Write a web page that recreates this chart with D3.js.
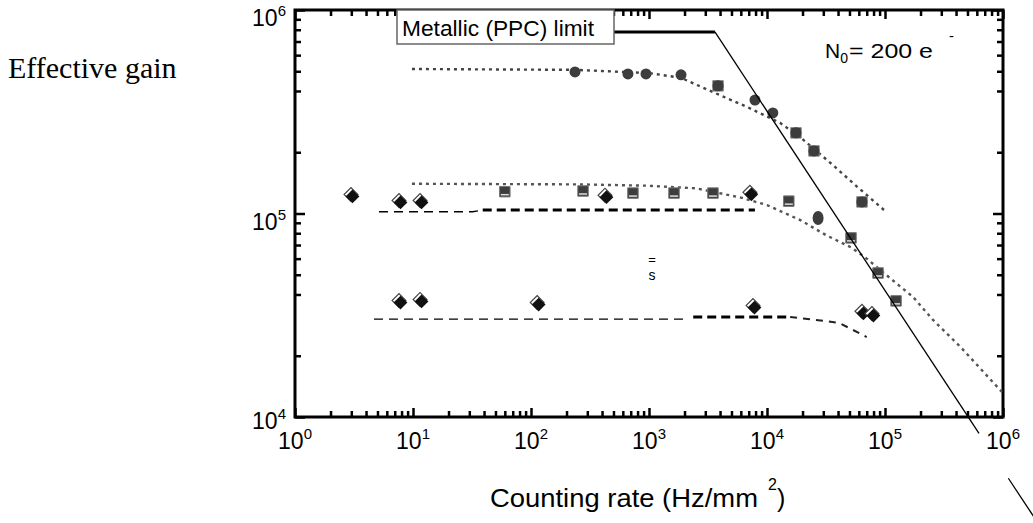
<!DOCTYPE html>
<html>
<head>
<meta charset="utf-8">
<script src="https://cdn.jsdelivr.net/npm/d3@7"></script>
<style>
body { margin: 0; background: #fff; }
text { font-family: "Liberation Sans", Arial, sans-serif; fill: #000; }
.axis .domain { display: none; }
.axis line { stroke: #000; stroke-width: 2.5; }
</style>
</head>
<body>
<svg class="chart" width="1033" height="523"></svg>
<script>
// exponents for the decade labels
var xExp = ["0","1","2","3","4","5","6"];
var yExp = ["4","5","6"];
var minorX = [2,3,4,5,6,7,8,9];
var minorY = [2,4,5,6,7,8,9];

// top group (N0 = 200 e-, highest gain)
var topRate = [236, 663, 943, 1868, 3846, 7910, 11200, 17600, 25000, 63800];
var topGain = [4.96e5, 4.85e5, 4.85e5, 4.80e5, 4.24e5, 3.61e5, 3.12e5, 2.49e5, 2.03e5, 1.14e5];
var topBigIdx = [4, 7, 8, 9];
var topFitRate = [9.8, 236, 1000, 1870, 3480, 6770, 12900, 19000, 36200, 53600, 102000];
var topFitGain = [5.13e5, 5.08e5, 4.9e5, 4.64e5, 3.95e5, 3.34e5, 2.79e5, 2.38e5, 1.73e5, 1.41e5, 1.02e5];

// middle group
var midSqRate = [60, 276, 731, 1629, 3483, 15300, 51500, 87300, 124000];
var midSqGain = [1.28e5, 1.29e5, 1.26e5, 1.26e5, 1.26e5, 1.15e5, 7.59e4, 5.1e4, 3.72e4];
var midCircRate = [27100];
var midCircGain = [9.5e4];
var midDiaRate = [3.04, 7.76, 11.7, 432, 7300];
var midDiaGain = [1.22e5, 1.14e5, 1.14e5, 1.21e5, 1.25e5];
var midFitRate = [9.8, 260, 960, 2500, 5900, 10000, 19000, 32000, 52000, 70000, 116000, 173000, 255000, 436000, 1e6];
var midFitGain = [1.40e5, 1.39e5, 1.37e5, 1.33e5, 1.2e5, 1.10e5, 9.3e4, 7.8e4, 6.8e4, 6.0e4, 4.7e4, 3.89e4, 3.0e4, 2.21e4, 1.31e4];
var midThinRate = [5.15, 32, 39];
var midThinGain = [1.02e5, 1.02e5, 1.04e5];
var midThickRate = [39, 7900];
var midThickGain = [1.04e5, 1.04e5];

// lower group
var lowDiaRate = [7.76, 11.7, 115, 7760, 65000, 79000];
var lowDiaGain = [3.67e4, 3.72e4, 3.59e4, 3.47e4, 3.25e4, 3.17e4];
var lowThinRate = [4.67, 2100];
var lowThinGain = [3.03e4, 3.03e4];
var lowThickRate = [2370, 15700];
var lowThickGain = [3.1e4, 3.1e4];
var lowTailRate = [15700, 30000, 41000, 70000];
var lowTailGain = [3.1e4, 2.97e4, 2.9e4, 2.47e4];

// metallic (PPC) limit
var limFlatRate = [100, 3620];
var limFlatGain = [7.8e5, 7.8e5];
var limSlopeRate = [3620, 6.26e5];
var limSlopeGain = [7.8e5, 8.3e3];
var limTailRate = [1.11e6, 1.98e6];
var limTailGain = [5.0e3, 3.01e3];

function pairs(a, b) { return a.map(function(v, i) { return [v, b[i]]; }); }

var margin = {top: 10, left: 295, right: 30, bottom: 106};
var width = 1033 - margin.left - margin.right,   // 708
    height = 523 - margin.top - margin.bottom;   // 407

var x = d3.scaleLog().domain([1, 1e6]).range([0, width]);
var y = d3.scaleLog().domain([1e4, 1e6]).range([height, 0]);

var svg = d3.select("svg.chart");
var g = svg.append("g").attr("transform", "translate(" + margin.left + "," + margin.top + ")");

g.append("clipPath").attr("id", "clip")
  .append("rect").attr("width", width).attr("height", height);

var xMajor = xExp.map(function(e) { return Math.pow(10, +e); });
var yMajor = yExp.map(function(e) { return Math.pow(10, +e); });
var xMinor = [], yMinor = [];
for (var d = 0; d < 6; d++) minorX.forEach(function(m) { xMinor.push(m * Math.pow(10, d)); });
for (var d2 = 4; d2 < 6; d2++) minorY.forEach(function(m) { yMinor.push(m * Math.pow(10, d2)); });

// ticks on all four sides, pointing inward
function addAxis(axisFn, scale, vals, size, tr) {
  g.append("g").attr("class", "axis")
    .attr("transform", tr)
    .call(axisFn(scale).tickValues(vals).tickSize(-size).tickFormat(""));
}
addAxis(d3.axisBottom, x, xMinor, 6, "translate(0," + height + ")");
addAxis(d3.axisBottom, x, xMajor, 9, "translate(0," + height + ")");
addAxis(d3.axisTop, x, xMinor, 6, "translate(0,0)");
addAxis(d3.axisTop, x, xMajor, 9, "translate(0,0)");
addAxis(d3.axisLeft, y, yMinor, 6, "translate(0,0)");
addAxis(d3.axisLeft, y, yMajor, 10, "translate(0,0)");
addAxis(d3.axisRight, y, yMinor, 6, "translate(" + width + ",0)");
addAxis(d3.axisRight, y, yMajor, 10, "translate(" + width + ",0)");

g.append("rect")
  .attr("width", width).attr("height", height)
  .attr("fill", "none").attr("stroke", "#000").attr("stroke-width", 3);

// decade labels
var xl = g.selectAll(".xlab").data(xExp).enter().append("text")
  .attr("class", "xlab")
  .attr("x", function(e) { return x(Math.pow(10, +e)); })
  .attr("y", height + 32)
  .attr("text-anchor", "middle")
  .style("font-size", "23px");
xl.append("tspan").text("10");
xl.append("tspan").attr("dy", -10).style("font-size", "15px").text(function(e) { return e; });

var yl = g.selectAll(".ylab").data(yExp).enter().append("text")
  .attr("class", "ylab")
  .attr("x", -9)
  .attr("y", function(e) { return Math.min(y(Math.pow(10, +e)) + 16, height + 12); })
  .attr("text-anchor", "end")
  .style("font-size", "23px");
yl.append("tspan").text("10");
yl.append("tspan").attr("dy", -10).style("font-size", "15px").text(function(e) { return e; });

var line = d3.line().x(function(d) { return x(d[0]); }).y(function(d) { return y(d[1]); });
var body = g.append("g").attr("clip-path", "url(#clip)");

function path(parent, data, stroke, w, dash) {
  parent.append("path").datum(data)
    .attr("d", line).attr("fill", "none")
    .attr("stroke", stroke).attr("stroke-width", w)
    .attr("stroke-dasharray", dash);
}

// fit curves
path(body, pairs(topFitRate, topFitGain), "#444", 2.4, "3,4");
path(body, pairs(midFitRate, midFitGain), "#555", 2.4, "3,4");
path(body, pairs(midThinRate, midThinGain), "#000", 1.3, "9,6");
path(body, pairs(midThickRate, midThickGain), "#000", 3, "9,5");
path(body, pairs(lowThinRate, lowThinGain), "#000", 1.3, "9,6");
path(body, pairs(lowThickRate, lowThickGain), "#000", 3, "9,5");
path(body, pairs(lowTailRate, lowTailGain), "#222", 2, "7,6");

// limit line, runs past the frame
path(g, pairs(limFlatRate, limFlatGain), "#000", 3, null);
path(g, pairs(limSlopeRate, limSlopeGain), "#000", 1.3, null);
path(g, pairs(limTailRate, limTailGain), "#000", 1.3, null);

// markers
var sq = d3.symbol(d3.symbolSquare, 110);
var dia = d3.symbol(d3.symbolSquare, 95);

body.selectAll(".tbig").data(topBigIdx).enter().append("path")
  .attr("d", sq)
  .attr("transform", function(i) { return "translate(" + x(topRate[i]) + "," + y(topGain[i]) + ")"; })
  .attr("fill", "#3d3d3d").attr("stroke", "#888").attr("stroke-width", 1);
body.selectAll(".tc").data(pairs(topRate, topGain)).enter().append("circle")
  .attr("cx", function(d) { return x(d[0]); })
  .attr("cy", function(d) { return y(d[1]); })
  .attr("r", 5.5).attr("fill", "#3d3d3d");

body.selectAll(".ms").data(pairs(midSqRate, midSqGain)).enter().append("g")
  .attr("transform", function(d) { return "translate(" + x(d[0]) + "," + y(d[1]) + ")"; })
  .each(function() {
    var s = d3.select(this);
    s.append("path").attr("d", sq).attr("fill", "#3d3d3d").attr("stroke", "#777").attr("stroke-width", 1);
    s.append("line").attr("x1", -4).attr("x2", 4).attr("y1", 3).attr("y2", 3)
      .attr("stroke", "#ddd").attr("stroke-width", 1.5);
  });
body.selectAll(".mc").data(pairs(midCircRate, midCircGain)).enter().append("ellipse")
  .attr("cx", function(d) { return x(d[0]); })
  .attr("cy", function(d) { return y(d[1]); })
  .attr("rx", 5.5).attr("ry", 7).attr("fill", "#3d3d3d");

function diamonds(data) {
  var gg = body.selectAll(null).data(data).enter().append("g")
    .attr("transform", function(d) { return "translate(" + x(d[0]) + "," + y(d[1]) + ")"; });
  gg.append("path").attr("d", dia)
    .attr("transform", "translate(-1,-1.5) rotate(45)")
    .attr("fill", "#fff").attr("stroke", "#444").attr("stroke-width", 1.2);
  gg.append("path").attr("d", dia)
    .attr("transform", "translate(0.5,0.5) rotate(45)")
    .attr("fill", "#111");
}
diamonds(pairs(midDiaRate, midDiaGain));
diamonds(pairs(lowDiaRate, lowDiaGain));

// legend box for the limit
g.append("rect")
  .attr("x", 102).attr("y", 0).attr("width", 217).attr("height", 34)
  .attr("fill", "#fff").attr("stroke", "#666").attr("stroke-width", 1.5);
g.append("text").attr("x", 107).attr("y", 26)
  .attr("textLength", 192).attr("lengthAdjust", "spacingAndGlyphs")
  .style("font-size", "22px").text("Metallic (PPC) limit");

// N0 annotation
var nt = g.append("text").attr("x", 530).attr("y", 48).style("font-size", "21px");
nt.append("tspan").text("N");
nt.append("tspan").attr("dy", 5).style("font-size", "14px").text("0");
g.append("text").attr("x", 554).attr("y", 48)
  .attr("textLength", 84).attr("lengthAdjust", "spacingAndGlyphs")
  .style("font-size", "21px").text("= 200 e");
g.append("text").attr("x", 654).attr("y", 31).style("font-size", "15px").text("-");

g.append("text").attr("x", 357).attr("y", 254).attr("text-anchor", "middle")
  .style("font-size", "13px").text("=");
g.append("text").attr("x", 357).attr("y", 270).attr("text-anchor", "middle")
  .style("font-size", "14px").text("s");

// axis titles
svg.append("text").attr("x", 8).attr("y", 78)
  .style("font-family", "'Liberation Serif', 'Times New Roman', serif")
  .style("font-size", "30px").text("Effective gain");

svg.append("text").attr("x", 490).attr("y", 507)
  .attr("textLength", 268).attr("lengthAdjust", "spacingAndGlyphs")
  .style("font-size", "25px").text("Counting rate (Hz/mm");
svg.append("text").attr("x", 768).attr("y", 490).style("font-size", "16px").text("2");
svg.append("text").attr("x", 777).attr("y", 507).style("font-size", "25px").text(")");
</script>
</body>
</html>
